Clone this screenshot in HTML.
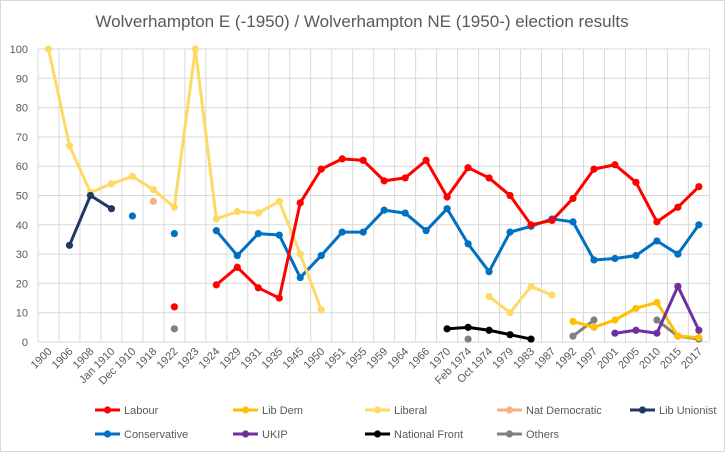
<!DOCTYPE html>
<html><head><meta charset="utf-8"><style>
html,body{margin:0;padding:0;background:#fff;}
svg{display:block;font-family:"Liberation Sans",sans-serif;}
</style></head><body>
<svg id="c" width="725" height="452" xmlns="http://www.w3.org/2000/svg">
<rect x="0.5" y="0.5" width="724" height="451" fill="#fff" stroke="#d9d9d9"/>
<text x="362" y="27" text-anchor="middle" font-size="17" fill="#595959">Wolverhampton E (-1950) / Wolverhampton NE (1950-) election results</text>
<g id="g"></g>
</svg>
<script>
var L=38,W=20.98,Y0=342,K=2.93,ns="http://www.w3.org/2000/svg",g=document.getElementById('g');
function el(t,a,txt){var e=document.createElementNS(ns,t);for(var k in a)e.setAttribute(k,a[k]);if(txt!=null)e.textContent=txt;g.appendChild(e);return e;}
var cats=["1900","1906","1908","Jan 1910","Dec 1910","1918","1922","1923","1924","1929","1931","1935","1945","1950","1951","1955","1959","1964","1966","1970","Feb 1974","Oct 1974","1979","1983","1987","1992","1997","2001","2005","2010","2015","2017"];
var R=L+W*cats.length;
for(var v=0;v<=100;v+=10){var y=Y0-v*K;el('line',{x1:L,x2:R,y1:y,y2:y,stroke:'#d9d9d9','stroke-width':1});el('text',{x:28,y:y+4,'text-anchor':'end','font-size':11,fill:'#595959'},v);}
for(var i=0;i<=cats.length;i++){var x=L+i*W;el('line',{x1:x,x2:x,y1:Y0-100*K,y2:Y0,stroke:'#d9d9d9'});}
cats.forEach(function(c,i){var x=L+(i+0.5)*W+4,y=Y0+10;el('text',{x:x,y:y,'text-anchor':'end','font-size':11,fill:'#595959',transform:'rotate(-45 '+x+' '+y+')'},c);});
function idx(c){return cats.indexOf(c);}
var S=[
["#0070c0",[["Dec 1910",43],null,["1922",37],null,["1924",38],["1929",29.5],["1931",37],["1935",36.5],["1945",22],["1950",29.5],["1951",37.5],["1955",37.5],["1959",45],["1964",44],["1966",38],["1970",45.5],["Feb 1974",33.5],["Oct 1974",24],["1979",37.5],["1983",39.5],["1987",42],["1992",41],["1997",28],["2001",28.5],["2005",29.5],["2010",34.5],["2015",30],["2017",40]]],
["#ffd966",[["1900",100],["1906",67],["1908",51],["Jan 1910",54],["Dec 1910",56.5],["1918",52],["1922",46],["1923",100],["1924",42],["1929",44.5],["1931",44],["1935",48],["1945",30],["1950",11],null,["Oct 1974",15.5],["1979",10],["1983",19],["1987",16]]],
["#f4b183",[["1918",48]]],
["#203864",[["1906",33],["1908",50],["Jan 1910",45.5]]],
["#ff0000",[["1922",12],null,["1924",19.5],["1929",25.5],["1931",18.5],["1935",15],["1945",47.5],["1950",59],["1951",62.5],["1955",62],["1959",55],["1964",56],["1966",62],["1970",49.5],["Feb 1974",59.5],["Oct 1974",56],["1979",50],["1983",40],["1987",41.5],["1992",49],["1997",59],["2001",60.5],["2005",54.5],["2010",41],["2015",46],["2017",53]]],
["#000000",[["1970",4.5],["Feb 1974",5],["Oct 1974",4],["1979",2.5],["1983",1]]],
["#808080",[["1922",4.5],null,["Feb 1974",1],null,["1992",2],["1997",7.5],null,["2010",7.5],["2015",2],["2017",1]]],
["#ffc000",[["1992",7],["1997",5],["2001",7.5],["2005",11.5],["2010",13.5],["2015",2],["2017",1.5]]],
["#7030a0",[["2001",3],["2005",4],["2010",3],["2015",19],["2017",4]]]
];
S.forEach(function(s){var segs=[[]];s[1].forEach(function(p){if(!p)segs.push([]);else segs[segs.length-1].push(p);});
segs.forEach(function(sg){var pts=sg.map(function(p){return [L+(idx(p[0])+0.5)*W,Y0-p[1]*K];});
if(pts.length>1)el('polyline',{points:pts.map(function(q){return q.join(',')}).join(' '),fill:'none',stroke:s[0],'stroke-width':3,'stroke-linejoin':'round'});
pts.forEach(function(q){el('circle',{cx:q[0],cy:q[1],r:3.6,fill:s[0]});});});});
var leg=[["Labour","#ff0000",95,410],["Lib Dem","#ffc000",233,410],["Liberal","#ffd966",365,410],["Nat Democratic","#f4b183",497,410],["Lib Unionist","#203864",630,410],["Conservative","#0070c0",95,434],["UKIP","#7030a0",233,434],["National Front","#000000",365,434],["Others","#808080",497,434]];
leg.forEach(function(l){el('line',{x1:l[2],x2:l[2]+25,y1:l[3],y2:l[3],stroke:l[1],'stroke-width':3});el('circle',{cx:l[2]+12.5,cy:l[3],r:3.6,fill:l[1]});el('text',{x:l[2]+29,y:l[3]+4,'font-size':11,fill:'#595959'},l[0]);});
</script>
</body></html>
